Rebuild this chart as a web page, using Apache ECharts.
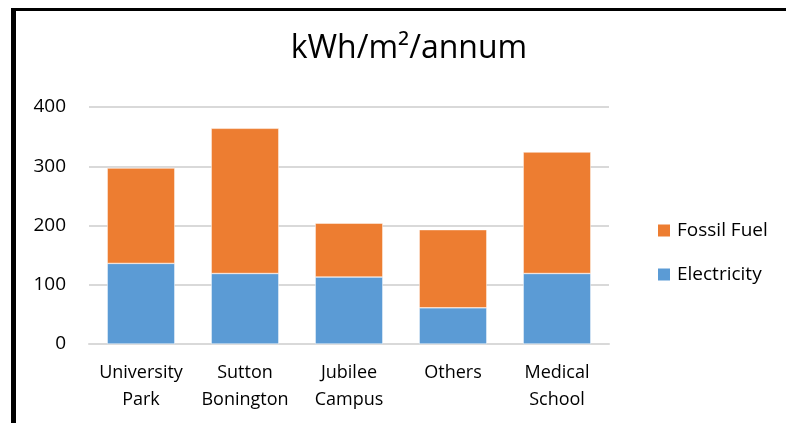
<!DOCTYPE html>
<html><head><meta charset="utf-8">
<script src="https://cdn.jsdelivr.net/npm/echarts@6/dist/echarts.min.js"></script>
<style>html,body{margin:0;padding:0;background:#fff}#c{width:786px;height:423px}</style>
</head><body><div id="c"></div>
<script>
const categories = ['University\nPark', 'Sutton\nBonington', 'Jubilee\nCampus', 'Others', 'Medical\nSchool'];
const electricity = [136, 119, 113, 61, 119];
const fossilFuel = [161, 245, 91, 132, 205];
const yTicks = [0, 100, 200, 300, 400];

const font = '"Open Sans", sans-serif';
const chart = echarts.init(document.getElementById('c'));
chart.setOption({
  animation: false,
  backgroundColor: '#fff',
  title: {
    text: 'kWh/m²/annum', left: 404, top: 28, textAlign: 'center',
    textStyle: { fontFamily: font, fontSize: 32, fontWeight: 'normal', color: '#000' }
  },
  legend: {
    orient: 'vertical', left: 651, top: 216, itemWidth: 14, itemHeight: 14, itemGap: 25,
    icon: 'rect',
    data: ['Fossil Fuel', 'Electricity'],
    textStyle: { fontFamily: font, fontSize: 19, color: '#000', padding: [0, 0, 0, 1] }
  },
  grid: { left: 89, right: 177, top: 107, bottom: 79 },
  xAxis: {
    type: 'category', data: categories,
    axisLine: { lineStyle: { color: '#d9d9d9', width: 2 } },
    axisTick: { show: false },
    axisLabel: { interval: 0, fontFamily: font, fontSize: 18, color: '#000', margin: 15, lineHeight: 27 }
  },
  yAxis: {
    type: 'value', min: yTicks[0], max: yTicks[yTicks.length - 1], interval: 100,
    axisLine: { show: false }, axisTick: { show: false },
    splitLine: { lineStyle: { color: '#d9d9d9', width: 2 } },
    axisLabel: { fontFamily: font, fontSize: 19, color: '#000', margin: 23 }
  },
  series: [
    { name: 'Electricity', type: 'bar', stack: 's', data: electricity, barCategoryGap: '35%',
      itemStyle: { color: '#5B9BD5', borderColor: '#fff', borderWidth: 0.5 } },
    { name: 'Fossil Fuel', type: 'bar', stack: 's', data: fossilFuel, barCategoryGap: '35%',
      itemStyle: { color: '#ED7D31', borderColor: '#fff', borderWidth: 0.5 } }
  ],
  graphic: [
    { type: 'rect', shape: { x: 11, y: 8, width: 786, height: 3 }, style: { fill: '#000' } },
    { type: 'rect', shape: { x: 11, y: 8, width: 5, height: 423 }, style: { fill: '#000' } }
  ]
});
</script></body></html>
